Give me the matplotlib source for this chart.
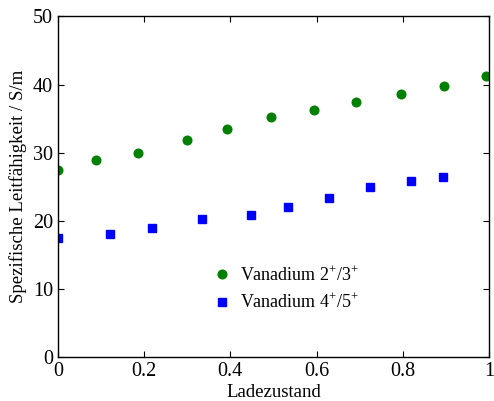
import numpy as np
import matplotlib.pyplot as plt

plt.rcParams['font.family'] = ['Liberation Serif', 'DejaVu Serif']
plt.rcParams['mathtext.fontset'] = 'custom'
plt.rcParams['mathtext.rm'] = 'Liberation Serif'

# Vanadium 2+/3+
soc_23 = [0.0, 0.089, 0.185, 0.300, 0.392, 0.495, 0.593, 0.692, 0.796, 0.895, 0.994]
sig_23 = [27.5, 28.9, 30.0, 31.9, 33.4, 35.2, 36.3, 37.5, 38.6, 39.8, 41.3]

# Vanadium 4+/5+
soc_45 = [0.0, 0.122, 0.219, 0.334, 0.447, 0.533, 0.630, 0.725, 0.820, 0.894]
sig_45 = [17.5, 18.0, 19.0, 20.2, 20.9, 22.0, 23.3, 24.9, 25.8, 26.4]

fig = plt.figure(figsize=(4.94, 4.01), dpi=100)
ax = fig.add_axes([0.117, 0.11, 0.873, 0.849])

ax.plot(soc_23, sig_23, 'o', color='#008000', markersize=6.2, label=r'Vanadium 2$^{+}$/3$^{+}$')
ax.plot(soc_45, sig_45, 's', color='#0000ff', markersize=6.2, label=r'Vanadium 4$^{+}$/5$^{+}$')

ax.set_xlim(0, 1)
ax.set_ylim(0, 50)
ax.set_xticks([0, 0.2, 0.4, 0.6, 0.8, 1])
ax.set_xticklabels(['0', '0.2', '0.4', '0.6', '0.8', '1'])
ax.set_yticks([0, 10, 20, 30, 40, 50])
ax.tick_params(direction='in', top=True, right=True, length=4, labelsize=14.5, colors='black')
for s in ax.spines.values():
    s.set_linewidth(1.0)

ax.set_xlabel('Ladezustand', fontsize=13.5, labelpad=2)
ax.set_ylabel('Spezifische Leitfähigkeit / S/m', fontsize=13.5, labelpad=4)

ax.legend(loc='lower left', bbox_to_anchor=(0.342, 0.11), frameon=False, fontsize=13,
          handlelength=1.0, handletextpad=0.5, labelspacing=0.45, borderaxespad=0)

plt.savefig('out.png', dpi=100)
